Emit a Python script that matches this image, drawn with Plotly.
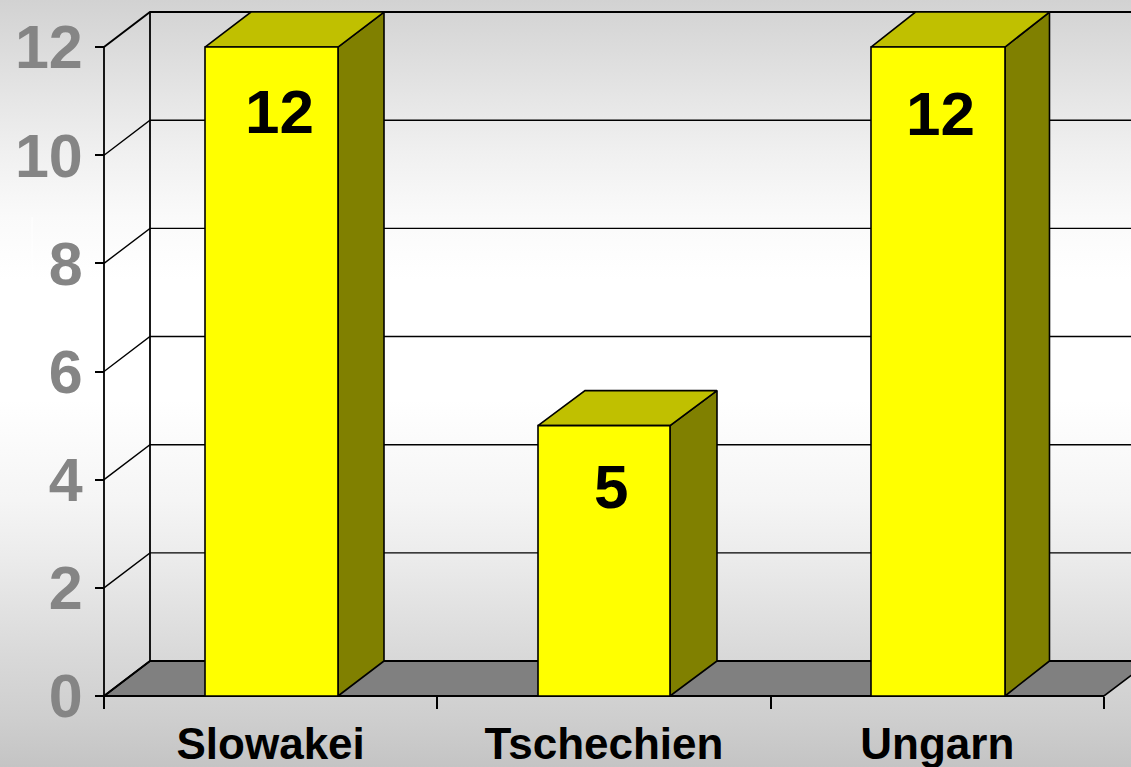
import plotly.graph_objects as go

categories = ["Slowakei", "Tschechien", "Ungarn"]
values = [12, 5, 12]
label_pos_x = [0.525, 1.521, 2.511]
label_drop = [1.186, 1.135, 1.226]
y_ticks = [0, 2, 4, 6, 8, 10, 12]

W, H = 1131, 767
PX_X = 333.33
PX_Y = 54.08
X0_PX, Y0_PX = 104, 696
DX = 46 / PX_X
DY = 35 / PX_Y
BAR_L, BAR_R = [0.303, 1.302, 2.301], [0.702, 1.698, 2.703]
BAR_DX = [46 / PX_X, 47 / PX_X, 44.5 / PX_X]

xr = [-X0_PX / PX_X, (W - X0_PX) / PX_X]
yr = [-(H - Y0_PX) / PX_Y, Y0_PX / PX_Y]
XEND = 3.0

fig = go.Figure()


def poly(xs, ys, fill=None, width=1.6, color="#000"):
    fig.add_trace(go.Scatter(
        x=xs, y=ys, mode="lines", hoverinfo="skip", showlegend=False,
        line=dict(color=color, width=width),
        fill="toself" if fill else "none", fillcolor=fill, cliponaxis=True))


# background gradient
grad_px = [(0, "#d2d2d2"), (50, "#dcdcdc"), (100, "#e6e6e6"), (153, "#f0f0f0"), (217, "#fafafa"),
           (280, "#ffffff"), (400, "#ffffff"), (500, "#f5f5f5"), (560, "#ebebeb"),
           (660, "#d8d8d8"), (720, "#cecece"), (767, "#c4c4c4")]
grad_scale = sorted([[1 - p / H, c] for p, c in grad_px])
fig.add_trace(go.Scatter(
    x=[xr[0], xr[1], xr[1], xr[0], xr[0]],
    y=[yr[0], yr[0], yr[1], yr[1], yr[0]],
    mode="none", fill="toself", hoverinfo="skip", showlegend=False,
    fillgradient=dict(type="vertical", colorscale=grad_scale)))

# floor
poly([0, DX, XEND + DX, XEND, 0], [0, DY, DY, 0, 0], fill="#808080")
# back wall grid and side wall lines
for t in y_ticks:
    poly([0, DX, xr[1]], [t, t + DY, t + DY], width=1.9 if t in (0, 12) else 1.4)
poly([DX, DX], [DY, 12 + DY], width=1.8)
poly([0, 0], [0, 12], width=1.8)
poly([0, XEND], [0, 0], width=1.9)

# faint artefact in the backdrop
fig.add_shape(type="line", xref="paper", yref="paper", x0=32 / W, x1=32 / W,
              y0=1 - 282 / H, y1=1 - 217 / H, line=dict(color="#ffffff", width=1))

# bars
for i, v in enumerate(values):
    l, r, d = BAR_L[i], BAR_R[i], BAR_DX[i]
    poly([r, r + d, r + d, r, r], [0, DY, v + DY, v, 0], fill="#808000")
    poly([l, r, r + d, l + d, l], [v, v, v + DY, v + DY, v], fill="#c0c000")
    poly([l, r, r, l, l], [0, 0, v, v, 0], fill="#ffff00")
    fig.add_annotation(x=label_pos_x[i], y=v - label_drop[i], text=str(v), showarrow=False,
                       font=dict(family="Liberation Sans", size=62, color="#000", weight=700))

fig.update_layout(
    width=W, height=H, margin=dict(l=0, r=0, t=0, b=0, autoexpand=False), autosize=False,
    paper_bgcolor="#ffffff", plot_bgcolor="rgba(0,0,0,0)", showlegend=False,
    xaxis=dict(
        domain=[0, 1], range=xr, anchor="free", position=(H - Y0_PX) / H,
        showgrid=False, zeroline=False, showline=False,
        tickmode="array", tickvals=[0.5, 1.5, 2.5], ticktext=categories, ticks="",
        ticklabelstandoff=18,
        tickfont=dict(family="Liberation Sans", size=44, color="#000", weight=700),
        minor=dict(tickmode="array", tickvals=[0, 1, 2, 3], ticks="outside", ticklen=12,
                   tickwidth=1.5, tickcolor="#000", showgrid=False)),
    yaxis=dict(
        domain=[0, 1], range=yr, anchor="free", position=X0_PX / W,
        showgrid=False, zeroline=False, showline=False,
        tickmode="array", tickvals=y_ticks, ticks="outside", ticklen=9, tickwidth=1.5,
        tickcolor="#000", ticklabelstandoff=0,
        tickfont=dict(family="Liberation Sans", size=61, color="#858585", weight=700)),
)
fig.write_html("out.html", config={"displayModeBar": False},
               post_script="document.body.style.margin='0';document.body.style.overflow='hidden';")
